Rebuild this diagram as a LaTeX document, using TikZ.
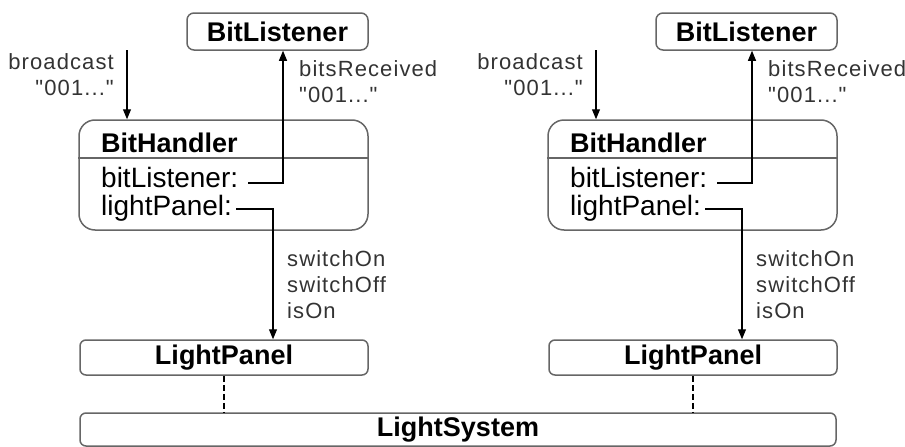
\documentclass[tikz,border=0pt]{standalone}
\usepackage{fontspec}
\setmainfont{Liberation Sans}
\newfontfamily\lblfont[LetterSpace=5]{Liberation Sans}
\usepackage{tikz}
\usetikzlibrary{arrows.meta}
\tikzstyle{Box}=[draw=black!60,line width=1.5pt,rounded corners=7pt,
inner sep=0pt,font=\fontsize{27}{30}\selectfont\bfseries]
\tikzstyle{Title}=[inner sep=0pt,anchor=base west,
font=\fontsize{27}{30}\selectfont\bfseries]
\tikzstyle{Field}=[inner sep=0pt,anchor=base west,font=\fontsize{28}{30}\selectfont]
\tikzstyle{Msg}=[inner sep=0pt,text=black!80,font=\lblfont\fontsize{22}{26}\selectfont]
\tikzstyle{Link}=[draw=black,line width=1.1pt,-{Triangle[length=10pt,width=8pt]}]
\tikzstyle{Dash}=[draw=black,line width=1.1pt,dash pattern=on 6pt off 3pt]
\tikzstyle{Split}=[draw=black!60,line width=1.5pt]

\begin{document}
\begin{tikzpicture}[x=1pt,y=-1pt]
            \useasboundingbox(0,0)rectangle(905,447);
            % left group
            \node[Box,minimum width=181pt,minimum height=37pt](BL1)at(277.5,31.5)
                {BitListener};
            \node[Box,rounded corners=16pt,minimum width=289pt,minimum height=110pt]
                (BH1)at(223.5,175){};
            \draw[Split](BH1.west|-0,158)--(BH1.east|-0,158);
            \node[Title](name1)at(101,152){BitHandler};
            \node[Field](lis1)at(101,187){bitListener:};
            \node[Field](pan1)at(101,215){lightPanel:};
            \node[Box,rounded corners=6pt,minimum width=288pt,minimum height=35pt]
                (LP1)at(224,357.5){LightPanel};
            \node[Msg,align=right,anchor=north east](bc1)at(114,53)
                {broadcast\\"001..."};
            \node[Msg,align=left,anchor=north west](br1)at(299,60)
                {bitsReceived\\"001..."};
            \node[Msg,align=left,anchor=north west](sw1)at(287,250)
                {switchOn\\switchOff\\isOn};
            % right group
            \node[Box,minimum width=181pt,minimum height=37pt](BL2)at(746.5,31.5)
                {BitListener};
            \node[Box,rounded corners=16pt,minimum width=289pt,minimum height=110pt]
                (BH2)at(692.5,175){};
            \draw[Split](BH2.west|-0,158)--(BH2.east|-0,158);
            \node[Title](name2)at(570,152){BitHandler};
            \node[Field](lis2)at(570,187){bitListener:};
            \node[Field](pan2)at(570,215){lightPanel:};
            \node[Box,rounded corners=6pt,minimum width=288pt,minimum height=35pt]
                (LP2)at(693,357.5){LightPanel};
            \node[Msg,align=right,anchor=north east](bc2)at(583,53)
                {broadcast\\"001..."};
            \node[Msg,align=left,anchor=north west](br2)at(768,60)
                {bitsReceived\\"001..."};
            \node[Msg,align=left,anchor=north west](sw2)at(756,250)
                {switchOn\\switchOff\\isOn};
            % shared system
            \node[Box,rounded corners=6pt,minimum width=756pt,minimum height=33pt]
                (LS)at(458,429.5){LightSystem};
            % connectors
            \coordinate(in1)at(127,50);
            \coordinate(s1)at(248,183);
            \coordinate(p1)at(236,209);
            \coordinate(in2)at(596,50);
            \coordinate(s2)at(717,183);
            \coordinate(p2)at(705,209);
            \draw[Link](in1)--(in1|-BH1.north);
            \draw[Link](s1)-|([xshift=5.5pt]BL1.south);
            \draw[Link](p1)-|([xshift=49pt]LP1.north);
            \draw[Dash](LP1.south)--(LP1.south|-LS.north);
            \draw[Link](in2)--(in2|-BH2.north);
            \draw[Link](s2)-|([xshift=5.5pt]BL2.south);
            \draw[Link](p2)-|([xshift=49pt]LP2.north);
            \draw[Dash](LP2.south)--(LP2.south|-LS.north);
        \end{tikzpicture}
\end{document}
